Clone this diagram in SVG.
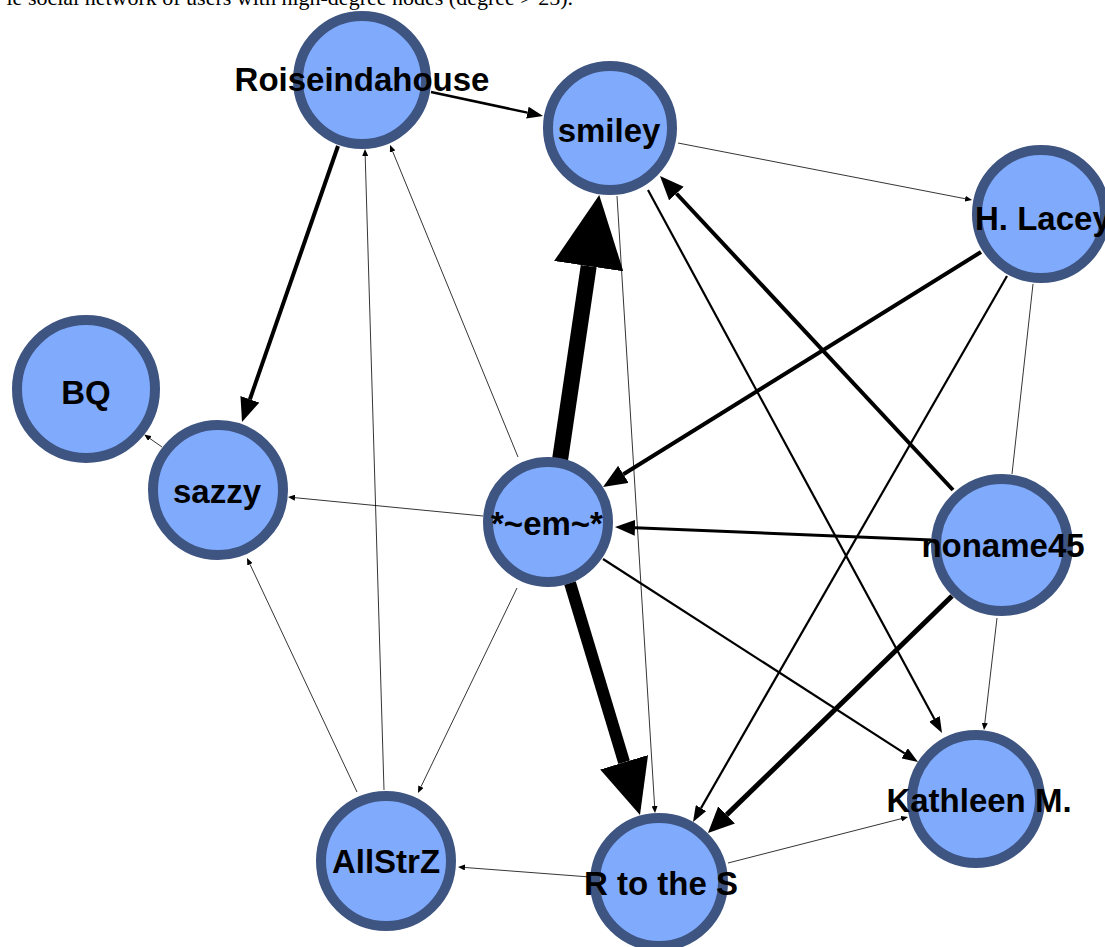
<svg xmlns="http://www.w3.org/2000/svg" width="1105" height="947" viewBox="0 0 1105 947">
<style>
.node circle { fill: #80AAFC; stroke: #3E5481; stroke-width: 10; }
.node text { font-family: "Liberation Sans", Arial, sans-serif; font-weight: bold; font-size: 33px; fill: #000; text-anchor: middle; }
.e { stroke: #000; fill: none; }
.t { stroke-width: 0.8; marker-end: url(#aT); }
.m { stroke-width: 2.2; marker-end: url(#aM); }
.k { stroke-width: 4; marker-end: url(#aK); }
.caption { font-family: "Liberation Serif", "Times New Roman", serif; font-size: 22px; fill: #000; }
</style>
<defs>
<marker id="aT" markerUnits="userSpaceOnUse" viewBox="0 -3 7 6" refX="0" refY="0" markerWidth="7" markerHeight="6" orient="auto"><path d="M0,-3 L7,0 L0,3 Z" fill="#000"/></marker>
<marker id="aM" markerUnits="userSpaceOnUse" viewBox="0 -6 16 12" refX="0" refY="0" markerWidth="16" markerHeight="12" orient="auto"><path d="M0,-6 L16,0 L0,6 Z" fill="#000"/></marker>
<marker id="aK" markerUnits="userSpaceOnUse" viewBox="0 -10 24 20" refX="0" refY="0" markerWidth="24" markerHeight="20" orient="auto"><path d="M0,-10 L24,0 L0,10 Z" fill="#000"/></marker>
<marker id="aK3" markerUnits="userSpaceOnUse" viewBox="0 -8 20 16" refX="0" refY="0" markerWidth="20" markerHeight="16" orient="auto"><path d="M0,-8 L20,0 L0,8 Z" fill="#000"/></marker>
<marker id="aK5" markerUnits="userSpaceOnUse" viewBox="0 -12 26 24" refX="0" refY="0" markerWidth="26" markerHeight="24" orient="auto"><path d="M0,-12 L26,0 L0,12 Z" fill="#000"/></marker>
<marker id="aH1" markerUnits="userSpaceOnUse" viewBox="0 -35 72 70" refX="0" refY="0" markerWidth="72" markerHeight="70" orient="auto"><path d="M0,-35 L72,0 L0,35 Z" fill="#000"/></marker>
<marker id="aH2" markerUnits="userSpaceOnUse" viewBox="0 -25 55 50" refX="0" refY="0" markerWidth="55" markerHeight="50" orient="auto"><path d="M0,-25 L55,0 L0,25 Z" fill="#000"/></marker>
</defs>
<text class="caption" x="573" y="5" text-anchor="end">le social network of users with high-degree nodes (degree &gt; 25).</text>
<g id="connectors">
<line class="e" x1="431" y1="92" x2="527.4" y2="112.6" stroke-width="2.5" marker-end="url(#aM)"/>
<line class="e k" x1="338" y1="146" x2="249.9" y2="399.3"/>
<line class="e t" x1="384" y1="790" x2="365.2" y2="156"/>
<line class="e t" x1="518" y1="457" x2="392.7" y2="151.5"/>
<line class="e" x1="560" y1="460" x2="588.7" y2="266.2" stroke-width="16" marker-end="url(#aH1)"/>
<line class="e" x1="570" y1="583" x2="624.1" y2="762.3" stroke-width="12" marker-end="url(#aH2)"/>
<line class="e t" x1="678" y1="143" x2="965.1" y2="198.7"/>
<line class="e t" x1="617" y1="196" x2="654.6" y2="806"/>
<line class="e m" x1="648" y1="190" x2="934.4" y2="718.9"/>
<line class="e k" x1="953" y1="490" x2="676.4" y2="193.5"/>
<line class="e k" x1="981" y1="252" x2="623.4" y2="474.3"/>
<line class="e m" x1="1007" y1="276" x2="701" y2="808.1"/>
<line class="e" x1="1033" y1="284" x2="1012" y2="474" stroke-width="0.8"/>
<line class="e" x1="932" y1="540" x2="635" y2="527.8" stroke-width="3" marker-end="url(#aK3)"/>
<line class="e" x1="952" y1="596" x2="726.6" y2="814.9" stroke-width="5" marker-end="url(#aK5)"/>
<line class="e t" x1="997" y1="618" x2="984.8" y2="723"/>
<line class="e m" x1="603" y1="559" x2="904.6" y2="753.3"/>
<line class="e t" x1="483" y1="516" x2="295" y2="497.7"/>
<line class="e t" x1="517" y1="588" x2="421" y2="786.7"/>
<line class="e t" x1="357" y1="792" x2="250" y2="564.3"/>
<line class="e t" x1="162" y1="447" x2="149.9" y2="438.5"/>
<line class="e t" x1="590" y1="877" x2="465" y2="867.5"/>
<line class="e t" x1="728" y1="863" x2="901.2" y2="818.7"/>
</g>
<g id="node-roiseindahouse" class="node"><circle cx="362" cy="80" r="64"/><text x="362" y="91">Roiseindahouse</text></g>
<g id="node-smiley" class="node"><circle cx="610" cy="128" r="62"/><text x="609" y="142">smiley</text></g>
<g id="node-hlacey" class="node"><circle cx="1041" cy="214" r="64"/><text x="975" y="230" style="text-anchor:start">H. Lacey</text></g>
<g id="node-bq" class="node"><circle cx="86" cy="389" r="69"/><text x="86" y="404">BQ</text></g>
<g id="node-sazzy" class="node"><circle cx="218" cy="490" r="65"/><text x="217" y="503">sazzy</text></g>
<g id="node-em" class="node"><circle cx="548" cy="522" r="60"/><text x="547" y="535">*~em~*</text></g>
<g id="node-noname45" class="node"><circle cx="1002" cy="545" r="66"/><text x="1003" y="557">noname45</text></g>
<g id="node-kathleen" class="node"><circle cx="976" cy="799" r="64"/><text x="979" y="812">Kathleen M.</text></g>
<g id="node-allstrz" class="node"><circle cx="386" cy="861" r="65"/><text x="386" y="873">AllStrZ</text></g>
<g id="node-rtothes" class="node"><circle cx="659" cy="882" r="64"/><text x="661" y="895">R to the S</text></g>
</svg>
